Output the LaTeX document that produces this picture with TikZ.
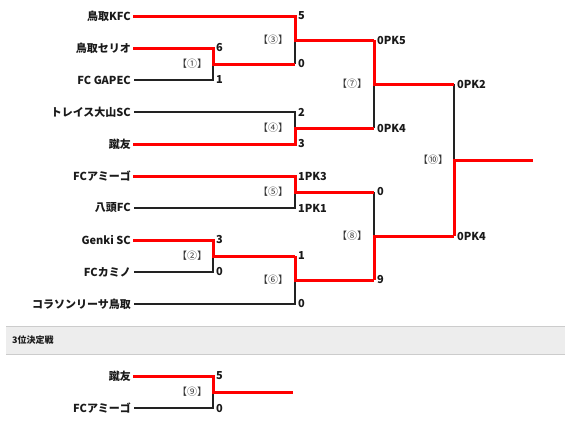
\documentclass[tikz,border=0pt]{standalone}
\usepackage{fontspec}
\setmainfont{Noto Sans CJK JP}
\newfontfamily\jphalt{Noto Sans CJK JP}[RawFeature=+halt]
\definecolor{wred}{HTML}{FF0000}
\definecolor{lgray}{HTML}{222222}
\definecolor{txt}{HTML}{1A1A1A}
\begin{document}
\begin{tikzpicture}[x=1pt,y=-1pt,
  win/.style={draw=wred,line width=3pt,line join=miter},
  lose/.style={draw=lgray,line width=2.2pt,line join=miter},
  team/.style={anchor=east,inner sep=0pt,text=txt,font=\bfseries\fontsize{11}{12}\selectfont},
  score/.style={anchor=west,inner sep=0pt,text=txt,font=\bfseries\fontsize{11}{12}\selectfont},
  mlabel/.style={anchor=center,inner sep=0pt,text=black!80,font=\jphalt\fontsize{10}{11}\selectfont},
  band/.style={fill=black!7,draw=none},
  bandline/.style={draw=black!20,line width=1pt},
  bandtext/.style={anchor=west,inner sep=0pt,text=txt,font=\bfseries\fontsize{9}{11}\selectfont}]
\useasboundingbox (0,0) rectangle (565,429);

% team nodes
\node[team] (kfc)  at (131,16)  {鳥取KFC};
\node[team] (seri) at (131,48)  {鳥取セリオ};
\node[team] (gap)  at (131,80)  {FC GAPEC};
\node[team] (tor)  at (131,112) {トレイス大山SC};
\node[team] (shu)  at (131,144) {蹴友};
\node[team] (ami)  at (131,176) {FCアミーゴ};
\node[team] (yaz)  at (131,208) {八頭FC};
\node[team] (gen)  at (131,240) {Genki SC};
\node[team] (kam)  at (131,272) {FCカミノ};
\node[team] (kor)  at (131,304) {コラソンリーサ鳥取};
\node[team] (shu3) at (131,376) {蹴友};
\node[team] (ami3) at (131,408) {FCアミーゴ};

% bracket coordinates
\coordinate (m1t) at (213,48);  \coordinate (m1) at (213,64);  \coordinate (m1b) at (213,80);
\coordinate (m3t) at (295,16);  \coordinate (m3) at (295,40);  \coordinate (m3b) at (295,64);
\coordinate (m4t) at (295,112); \coordinate (m4) at (295,128); \coordinate (m4b) at (295,144);
\coordinate (m7t) at (374,40);  \coordinate (m7) at (374,84);  \coordinate (m7b) at (374,128);
\coordinate (m5t) at (295,176); \coordinate (m5) at (295,192); \coordinate (m5b) at (295,208);
\coordinate (m2t) at (213,240); \coordinate (m2) at (213,256); \coordinate (m2b) at (213,272);
\coordinate (m6t) at (295,256); \coordinate (m6) at (295,280); \coordinate (m6b) at (295,304);
\coordinate (m8t) at (374,192); \coordinate (m8) at (374,236); \coordinate (m8b) at (374,280);
\coordinate (m10t) at (454,84); \coordinate (m10) at (454,160); \coordinate (m10b) at (454,236);
\coordinate (champ) at (533,160);
\coordinate (m9t) at (213,376); \coordinate (m9) at (213,392); \coordinate (m9b) at (213,408);
\coordinate (third) at (293,392);

% losers (black)
\draw[lose] ([xshift=3pt]gap.east) -- (m1b) -- (m1);
\draw[lose] (m3b) -- (m3);
\draw[lose] ([xshift=3pt]tor.east) -- (m4t) -- (m4);
\draw[lose] (m7b) -- (m7);
\draw[lose] ([xshift=3pt]yaz.east) -- (m5b) -- (m5);
\draw[lose] ([xshift=3pt]kam.east) -- (m2b) -- (m2);
\draw[lose] ([xshift=3pt]kor.east) -- (m6b) -- (m6);
\draw[lose] (m8t) -- (m8);
\draw[lose] (m10t) -- (m10);
\draw[lose] ([xshift=3pt]ami3.east) -- (m9b) -- (m9);

% winners (red)
\draw[win] ([xshift=2pt]seri.east) -- (m1t) -- (m1) -- (m3b);
\draw[win] ([xshift=2pt]kfc.east) -- (m3t) -- (m3) -- (m7t);
\draw[win] ([xshift=2pt]shu.east) -- (m4b) -- (m4) -- (m7b);
\draw[win] (m7t) -- (m7) -- (m10t);
\draw[win] ([xshift=2pt]ami.east) -- (m5t) -- (m5) -- (m8t);
\draw[win] ([xshift=2pt]gen.east) -- (m2t) -- (m2) -- (m6t);
\draw[win] (m6t) -- (m6) -- (m8b);
\draw[win] (m8b) -- (m8) -- (m10b);
\draw[win] (m10b) -- (m10) -- (champ);
\draw[win] ([xshift=2pt]shu3.east) -- (m9t) -- (m9) -- (third);

% scores
\node[score] (s1a) at ([xshift=3pt]m1t) {6};
\node[score] (s1b) at ([xshift=3pt]m1b) {1};
\node[score] (s3a) at ([xshift=3pt]m3t) {5};
\node[score] (s3b) at ([xshift=3pt]m3b) {0};
\node[score] (s4a) at ([xshift=3pt]m4t) {2};
\node[score] (s4b) at ([xshift=3pt]m4b) {3};
\node[score] (s7a) at ([xshift=3pt]m7t) {0PK5};
\node[score] (s7b) at ([xshift=3pt]m7b) {0PK4};
\node[score] (s5a) at ([xshift=3pt]m5t) {1PK3};
\node[score] (s5b) at ([xshift=3pt]m5b) {1PK1};
\node[score] (s2a) at ([xshift=3pt]m2t) {3};
\node[score] (s2b) at ([xshift=3pt]m2b) {0};
\node[score] (s6a) at ([xshift=3pt]m6t) {1};
\node[score] (s6b) at ([xshift=3pt]m6b) {0};
\node[score] (s8a) at ([xshift=3pt]m8t) {0};
\node[score] (s8b) at ([xshift=3pt]m8b) {9};
\node[score] (s10a) at ([xshift=3pt]m10t) {0PK2};
\node[score] (s10b) at ([xshift=3pt]m10b) {0PK4};
\node[score] (s9a) at ([xshift=3pt]m9t) {5};
\node[score] (s9b) at ([xshift=3pt]m9b) {0};

% match labels
\node[mlabel] (l1) at ([xshift=-21pt]m1) {【①】};
\node[mlabel] (l2) at ([xshift=-21pt]m2) {【②】};
\node[mlabel] (l3) at ([xshift=-22pt]m3) {【③】};
\node[mlabel] (l4) at ([xshift=-22pt]m4) {【④】};
\node[mlabel] (l5) at ([xshift=-22pt]m5) {【⑤】};
\node[mlabel] (l6) at ([xshift=-22pt]m6) {【⑥】};
\node[mlabel] (l7) at ([xshift=-22pt]m7) {【⑦】};
\node[mlabel] (l8) at ([xshift=-22pt]m8) {【⑧】};
\node[mlabel] (l10) at ([xshift=-21pt]m10) {【⑩】};
\node[mlabel] (l9) at ([xshift=-21pt]m9) {【⑨】};

% third-place band
\path[band] (6,326) rectangle (565,354);
\draw[bandline] (6,326) -- (565,326);
\draw[bandline] (6,354) -- (565,354);
\node[bandtext] (bt) at (12,340) {3位決定戦};
\end{tikzpicture}
\end{document}
